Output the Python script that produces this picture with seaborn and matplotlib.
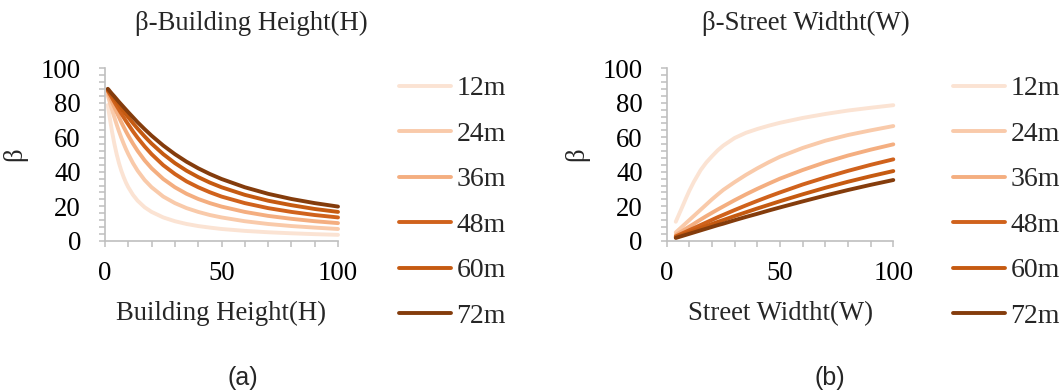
import matplotlib
matplotlib.use("Agg")
import matplotlib.pyplot as plt
import pandas as pd
import seaborn as sns
from matplotlib.ticker import MultipleLocator

# ---- data -------------------------------------------------------------
series_labels = ["12m", "24m", "36m", "48m", "60m", "72m"]
line_colors = ["#FBE3D3", "#F9CAAA", "#F4AE80", "#D0621C", "#C55A11", "#843C0C"]

# panel (a): beta against building height, one curve per street width
building_height = [1.2, 1.6, 2, 2.5, 3, 4, 5, 6, 7, 8, 9, 10, 12, 14, 17, 20, 25,
                   30, 35, 40, 45, 50, 60, 70, 80, 90, 100]
beta_h_12m = [78.7, 75.1, 71.6, 67.4, 63.4, 56.3, 50.2, 45.0, 40.6, 36.9, 33.7, 31.0, 26.6, 23.2,
              19.4, 16.7, 13.5, 11.3, 9.7, 8.5, 7.6, 6.8, 5.7, 4.9, 4.3, 3.8, 3.4]
beta_h_24m = [84.3, 82.4, 80.5, 78.2, 76.0, 71.6, 67.4, 63.4, 59.7, 56.3, 53.1, 50.2, 45.0, 40.6,
              35.2, 31.0, 25.6, 21.8, 18.9, 16.7, 14.9, 13.5, 11.3, 9.7, 8.5, 7.6, 6.8]
beta_h_36m = [86.2, 84.9, 83.7, 82.1, 80.5, 77.5, 74.5, 71.6, 68.7, 66.0, 63.4, 60.9, 56.3, 52.1,
              46.6, 42.0, 35.8, 31.0, 27.2, 24.2, 21.8, 19.8, 16.7, 14.4, 12.7, 11.3, 10.2]
beta_h_48m = [87.1, 86.2, 85.2, 84.1, 82.9, 80.5, 78.2, 76.0, 73.7, 71.6, 69.4, 67.4, 63.4, 59.7,
              54.7, 50.2, 43.8, 38.7, 34.4, 31.0, 28.1, 25.6, 21.8, 18.9, 16.7, 14.9, 13.5]
beta_h_60m = [87.7, 86.9, 86.2, 85.2, 84.3, 82.4, 80.5, 78.7, 76.9, 75.1, 73.3, 71.6, 68.2, 65.0,
              60.5, 56.3, 50.2, 45.0, 40.6, 36.9, 33.7, 31.0, 26.6, 23.2, 20.6, 18.4, 16.7]
beta_h_72m = [88.1, 87.5, 86.8, 86.0, 85.2, 83.7, 82.1, 80.5, 79.0, 77.5, 76.0, 74.5, 71.6, 68.7,
              64.7, 60.9, 55.2, 50.2, 45.8, 42.0, 38.7, 35.8, 31.0, 27.2, 24.2, 21.8, 19.8]

# panel (b): beta against street width, one curve per building height
street_width = [4, 5.5, 7, 8.5, 10, 12, 15, 17.5, 20, 22.5, 25, 30, 35, 40, 45, 50,
                60, 70, 80, 90, 100]
beta_w_12m = [11.0, 15.5, 20.0, 24.6, 29.0, 34.2, 41.0, 45.4, 49.0, 52.4, 55.2, 59.6, 62.6, 64.8,
              66.7, 68.4, 71.2, 73.5, 75.5, 77.1, 78.6]
beta_w_24m = [4.8, 6.6, 8.4, 10.2, 12.0, 14.4, 18.0, 21.0, 24.0, 26.8, 29.5, 34.0, 38.2, 42.0,
              45.5, 48.7, 53.8, 58.0, 61.3, 64.0, 66.5]
beta_w_36m = [3.3, 4.5, 5.7, 7.0, 8.2, 9.8, 12.3, 14.3, 16.2, 18.1, 19.9, 23.5, 26.9, 30.1,
              33.1, 36.0, 41.0, 45.5, 49.4, 52.8, 55.9]
beta_w_48m = [2.5, 3.4, 4.3, 5.2, 6.1, 7.3, 9.1, 10.6, 12.1, 13.6, 15.0, 17.8, 20.5, 23.1,
              25.6, 28.0, 32.6, 36.7, 40.5, 44.0, 47.2]
beta_w_60m = [2.0, 2.7, 3.4, 4.2, 4.9, 5.9, 7.3, 8.5, 9.7, 10.9, 12.0, 14.3, 16.5, 18.7,
              20.8, 22.9, 26.9, 30.7, 34.2, 37.4, 40.4]
beta_w_72m = [1.6, 2.2, 2.8, 3.4, 4.0, 4.8, 6.0, 7.0, 8.0, 9.0, 9.9, 11.9, 13.8, 15.6,
              17.5, 19.3, 22.8, 26.2, 29.4, 32.4, 35.2]


def long_frame(x_values, curves):
    rows = []
    for label, values in zip(series_labels, curves):
        for x, y in zip(x_values, values):
            rows.append({"x": x, "beta": y, "series": label})
    return pd.DataFrame(rows)


df_height = long_frame(building_height, [beta_h_12m, beta_h_24m, beta_h_36m,
                                         beta_h_48m, beta_h_60m, beta_h_72m])
df_width = long_frame(street_width, [beta_w_12m, beta_w_24m, beta_w_36m,
                                     beta_w_48m, beta_w_60m, beta_w_72m])

# ---- style ------------------------------------------------------------
sns.set_theme(style="white")
plt.rcParams["font.family"] = ["Liberation Serif", "DejaVu Serif"]

W, H = 1063, 392
FS = 19.3
LEG_FS = 20
GRID = "#BFBFBF"
LW = 2.8

fig = plt.figure(figsize=(W / 100, H / 100), dpi=100)


def px_axes(x0, x1, y_top, y_bottom):
    return fig.add_axes([x0 / W, 1 - y_bottom / H, (x1 - x0) / W, (y_bottom - y_top) / H])


def draw_panel(ax, df, xlabel, legend_x):
    sns.lineplot(data=df, x="x", y="beta", hue="series", hue_order=series_labels,
                 palette=line_colors, linewidth=LW, estimator=None, ax=ax)
    for line in ax.lines:
        line.set_clip_on(False)
        line.set_solid_capstyle("round")
        line.set_solid_joinstyle("round")
    ax.set_xlim(0, 100)
    ax.set_ylim(0, 100)
    ax.xaxis.set_major_locator(MultipleLocator(50))
    ax.xaxis.set_minor_locator(MultipleLocator(10))
    ax.yaxis.set_major_locator(MultipleLocator(20))
    ax.yaxis.set_minor_locator(MultipleLocator(4))
    sns.despine(ax=ax)
    for side in ("left", "bottom"):
        ax.spines[side].set_color(GRID)
        ax.spines[side].set_linewidth(1.2)
    ax.tick_params(which="both", direction="out", color=GRID, width=1.1,
                   length=4.5, labelsize=FS, labelcolor="black")
    ax.tick_params(axis="y", which="both", left=True, pad=12.8)
    ax.tick_params(axis="x", which="both", bottom=True, pad=10)
    ax.set_xlabel(xlabel, fontsize=FS, labelpad=11)
    ax.set_ylabel("β", fontsize=FS, labelpad=9.5)

    handles, labels = ax.get_legend_handles_labels()
    if ax.get_legend() is not None:
        ax.get_legend().remove()
    for hnd in handles:
        hnd.set_linewidth(LW)
        hnd.set_solid_capstyle("round")
    ax.legend(handles, labels, loc="upper left",
              bbox_to_anchor=(legend_x / W, 1 - 76 / H),
              bbox_transform=fig.transFigure, frameon=False,
              fontsize=LEG_FS, handlelength=1.87, handletextpad=0.2,
              labelspacing=0.72, borderpad=0, borderaxespad=0)


ax_a = px_axes(105, 338, 68.3, 240.7)
draw_panel(ax_a, df_height, "Building Height(H)", 399)

ax_b = px_axes(666.7, 893.3, 68.3, 240.7)
draw_panel(ax_b, df_width, "Street Widtht(W)", 953)

fig.text(251 / W, 1 - 23 / H, "β-Building Height(H)", ha="center", va="center", fontsize=FS)
fig.text(806 / W, 1 - 23 / H, "β-Street Widtht(W)", ha="center", va="center", fontsize=FS)

fig.text(243 / W, 1 - 378 / H, "(a)", ha="center", va="center", fontsize=18,
         family=["Liberation Sans", "DejaVu Sans"])
fig.text(830 / W, 1 - 378 / H, "(b)", ha="center", va="center", fontsize=18,
         family=["Liberation Sans", "DejaVu Sans"])

fig.savefig("out.png", dpi=100)
